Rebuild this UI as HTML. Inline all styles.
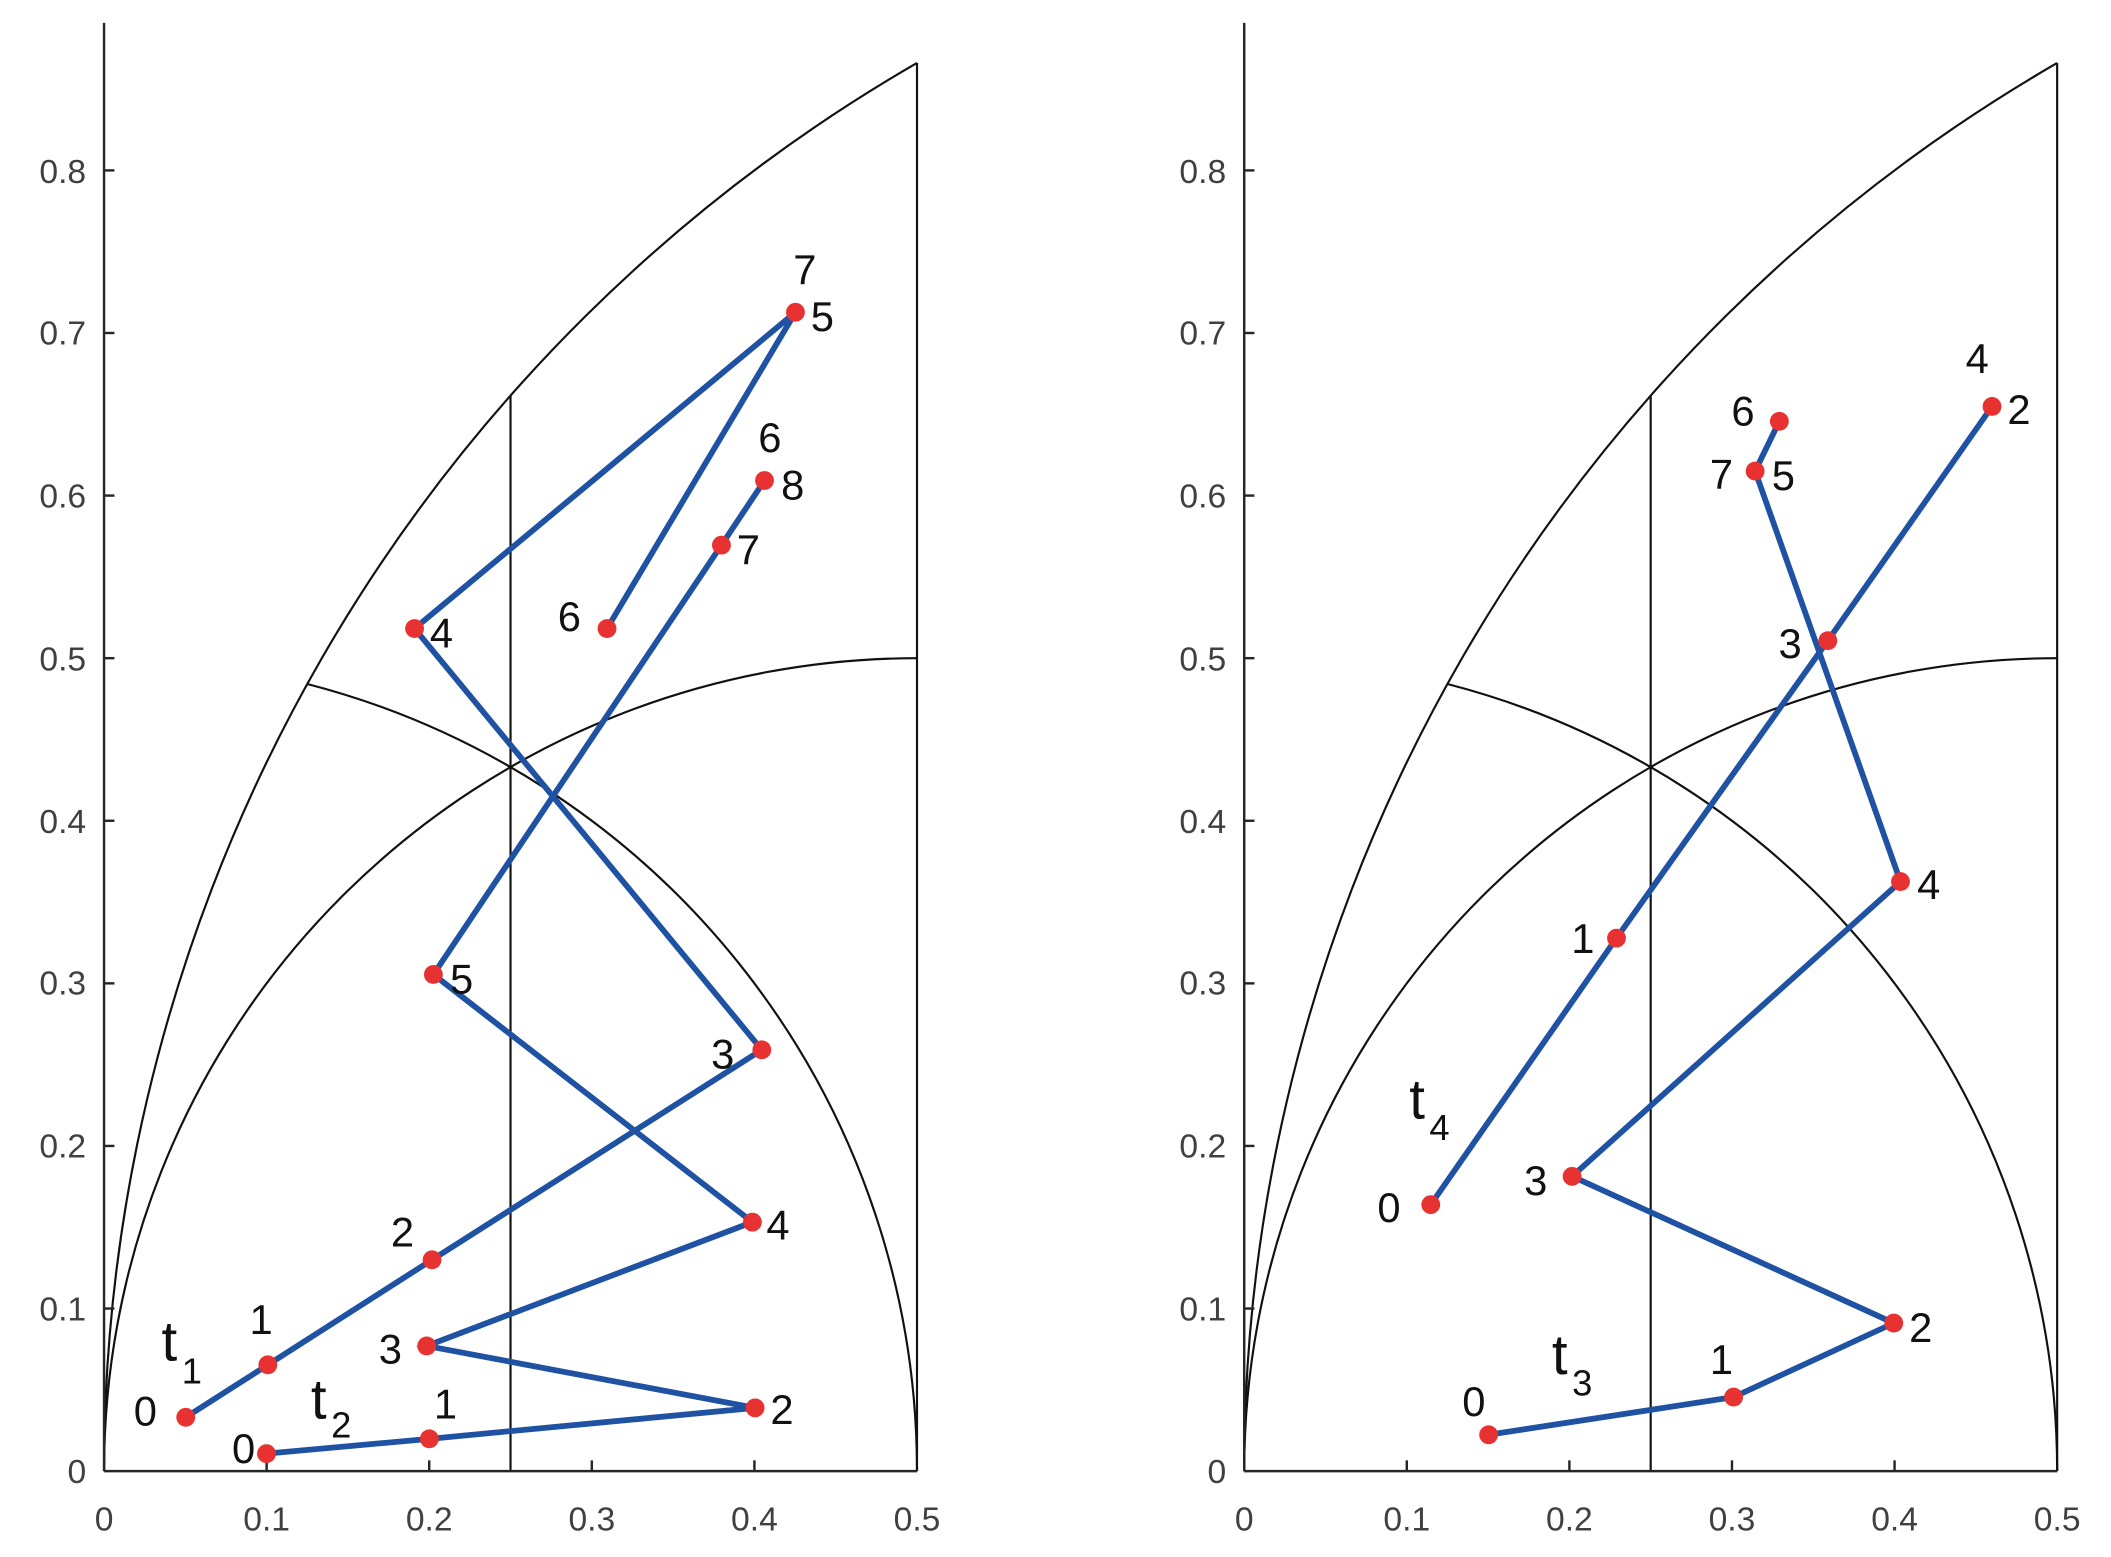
<!DOCTYPE html>
<html><head><meta charset="utf-8"><style>
html,body{margin:0;padding:0;background:#fff;}
svg{display:block;}
text{font-family:"Liberation Sans",sans-serif;}
.tk{fill:#404040;font-size:25px;}
.lb{fill:#111;font-size:31px;}
.tt{fill:#111;font-size:42px;}
.sb{fill:#111;font-size:27px;}
</style></head><body>
<svg width="2111" height="1557" viewBox="0 0 1568.4 1156.8" xmlns="http://www.w3.org/2000/svg">
<rect width="1568.4" height="1156.8" fill="#fff"/>
<!-- LEFT PANEL -->
<g fill="none" stroke="#111" stroke-width="1.6">
<path d="M77.3,1093 A1208,1208 0 0 1 681.3,46.8"/>
<path d="M77.3,1093 A604,604 0 0 1 681.3,489"/>
<path d="M228.3,508.2 A604,604 0 0 1 681.3,1093"/>
<line x1="379.3" y1="1093" x2="379.3" y2="294"/>
<line x1="681.3" y1="1093" x2="681.3" y2="46.8"/>
</g>
<g stroke="#262626" stroke-width="1.8">
<line x1="77.3" y1="17" x2="77.3" y2="1093"/>
<line x1="77.3" y1="1093" x2="681.3" y2="1093"/>
<line x1="77.3" y1="972.2" x2="85" y2="972.2"/><line x1="77.3" y1="851.4" x2="85" y2="851.4"/>
<line x1="77.3" y1="730.6" x2="85" y2="730.6"/><line x1="77.3" y1="609.8" x2="85" y2="609.8"/>
<line x1="77.3" y1="489" x2="85" y2="489"/><line x1="77.3" y1="368.2" x2="85" y2="368.2"/>
<line x1="77.3" y1="247.4" x2="85" y2="247.4"/><line x1="77.3" y1="126.6" x2="85" y2="126.6"/>
<line x1="198.1" y1="1093" x2="198.1" y2="1085"/><line x1="318.9" y1="1093" x2="318.9" y2="1085"/>
<line x1="439.7" y1="1093" x2="439.7" y2="1085"/><line x1="560.5" y1="1093" x2="560.5" y2="1085"/>
</g>
<g class="tk" text-anchor="end">
<text x="64" y="1102">0</text><text x="64" y="981">0.1</text><text x="64" y="860">0.2</text>
<text x="64" y="739">0.3</text><text x="64" y="619">0.4</text><text x="64" y="498">0.5</text>
<text x="64" y="377">0.6</text><text x="64" y="256">0.7</text><text x="64" y="136">0.8</text>
</g>
<g class="tk" text-anchor="middle">
<text x="77.3" y="1137">0</text><text x="198.1" y="1137">0.1</text><text x="318.9" y="1137">0.2</text>
<text x="439.7" y="1137">0.3</text><text x="560.5" y="1137">0.4</text><text x="681.3" y="1137">0.5</text>
</g>
<g fill="none" stroke="#1f52a3" stroke-width="4.3">
<polyline points="138,1053 199,1014 321,936 566,780 308,467 591,232 451,467"/>
<polyline points="198,1080 319,1069 561,1046 317,1000 559,908 322,724 536,405 568,357"/>
</g>
<g fill="#e83232">
<circle cx="138" cy="1053" r="7"/><circle cx="199" cy="1014" r="7"/><circle cx="321" cy="936" r="7"/>
<circle cx="566" cy="780" r="7"/><circle cx="308" cy="467" r="7"/><circle cx="591" cy="232" r="7"/>
<circle cx="451" cy="467" r="7"/>
<circle cx="198" cy="1080" r="7"/><circle cx="319" cy="1069" r="7"/><circle cx="561" cy="1046" r="7"/>
<circle cx="317" cy="1000" r="7"/><circle cx="559" cy="908" r="7"/><circle cx="322" cy="724" r="7"/>
<circle cx="536" cy="405" r="7"/><circle cx="568" cy="357" r="7"/>
</g>
<g class="lb" text-anchor="middle">
<text x="108" y="1059">0</text><text x="194" y="991">1</text><text x="299" y="926">2</text>
<text x="537" y="794">3</text><text x="328" y="481">4</text><text x="611" y="246">5</text>
<text x="598" y="211">7</text><text x="423" y="469">6</text>
<text x="181" y="1087">0</text><text x="331" y="1054">1</text><text x="581" y="1058">2</text>
<text x="290" y="1013">3</text><text x="578" y="921">4</text><text x="343" y="738">5</text>
<text x="556" y="419">7</text><text x="572" y="336">6</text><text x="589" y="371">8</text>
</g>
<text class="tt" x="120" y="1011">t</text><text class="sb" x="135" y="1028">1</text>
<text class="tt" x="231" y="1054">t</text><text class="sb" x="246" y="1068">2</text>

<!-- RIGHT PANEL -->
<g fill="none" stroke="#111" stroke-width="1.6">
<path d="M924.4,1093 A1208,1208 0 0 1 1528.4,46.8"/>
<path d="M924.4,1093 A604,604 0 0 1 1528.4,489"/>
<path d="M1075.4,508.2 A604,604 0 0 1 1528.4,1093"/>
<line x1="1226.4" y1="1093" x2="1226.4" y2="294"/>
<line x1="1528.4" y1="1093" x2="1528.4" y2="46.8"/>
</g>
<g stroke="#262626" stroke-width="1.8">
<line x1="924.4" y1="17" x2="924.4" y2="1093"/>
<line x1="924.4" y1="1093" x2="1528.4" y2="1093"/>
<line x1="924.4" y1="972.2" x2="932" y2="972.2"/><line x1="924.4" y1="851.4" x2="932" y2="851.4"/>
<line x1="924.4" y1="730.6" x2="932" y2="730.6"/><line x1="924.4" y1="609.8" x2="932" y2="609.8"/>
<line x1="924.4" y1="489" x2="932" y2="489"/><line x1="924.4" y1="368.2" x2="932" y2="368.2"/>
<line x1="924.4" y1="247.4" x2="932" y2="247.4"/><line x1="924.4" y1="126.6" x2="932" y2="126.6"/>
<line x1="1045.2" y1="1093" x2="1045.2" y2="1085"/><line x1="1166" y1="1093" x2="1166" y2="1085"/>
<line x1="1286.8" y1="1093" x2="1286.8" y2="1085"/><line x1="1407.6" y1="1093" x2="1407.6" y2="1085"/>
</g>
<g class="tk" text-anchor="end">
<text x="911" y="1102">0</text><text x="911" y="981">0.1</text><text x="911" y="860">0.2</text>
<text x="911" y="739">0.3</text><text x="911" y="619">0.4</text><text x="911" y="498">0.5</text>
<text x="911" y="377">0.6</text><text x="911" y="256">0.7</text><text x="911" y="136">0.8</text>
</g>
<g class="tk" text-anchor="middle">
<text x="924.4" y="1137">0</text><text x="1045.2" y="1137">0.1</text><text x="1166" y="1137">0.2</text>
<text x="1286.8" y="1137">0.3</text><text x="1407.6" y="1137">0.4</text><text x="1528.4" y="1137">0.5</text>
</g>
<g fill="none" stroke="#1f52a3" stroke-width="4.3">
<polyline points="1063,895 1201,697 1358,476 1480,302"/>
<polyline points="1106,1066 1288,1038 1407,983 1168,874 1412,655 1304,350 1322,313"/>
</g>
<g fill="#e83232">
<circle cx="1063" cy="895" r="7"/><circle cx="1201" cy="697" r="7"/><circle cx="1358" cy="476" r="7"/>
<circle cx="1480" cy="302" r="7"/>
<circle cx="1106" cy="1066" r="7"/><circle cx="1288" cy="1038" r="7"/><circle cx="1407" cy="983" r="7"/>
<circle cx="1168" cy="874" r="7"/><circle cx="1412" cy="655" r="7"/><circle cx="1304" cy="350" r="7"/>
<circle cx="1322" cy="313" r="7"/>
</g>
<g class="lb" text-anchor="middle">
<text x="1032" y="908">0</text><text x="1176" y="708">1</text><text x="1330" y="489">3</text>
<text x="1500" y="315">2</text><text x="1469" y="277">4</text>
<text x="1095" y="1052">0</text><text x="1279" y="1021">1</text><text x="1427" y="997">2</text>
<text x="1141" y="888">3</text><text x="1433" y="668">4</text>
<text x="1279" y="363">7</text><text x="1325" y="364">5</text><text x="1295" y="316">6</text>
</g>
<text class="tt" x="1047" y="831">t</text><text class="sb" x="1062" y="847">4</text>
<text class="tt" x="1153" y="1021">t</text><text class="sb" x="1168" y="1037">3</text>
</svg>
</body></html>
